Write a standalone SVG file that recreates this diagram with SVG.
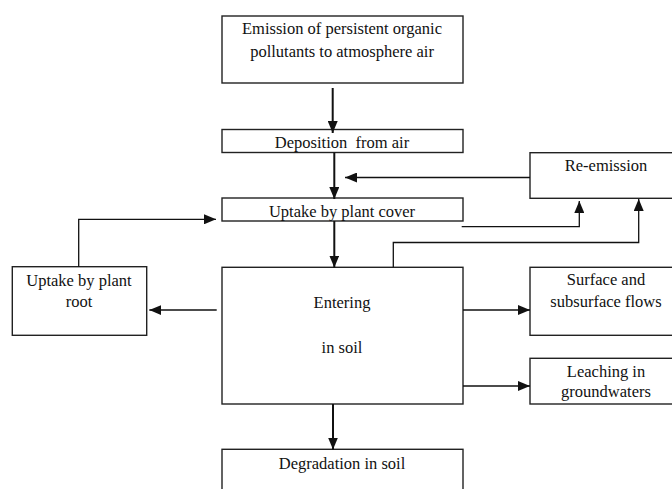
<svg xmlns="http://www.w3.org/2000/svg" width="672" height="489" viewBox="0 0 672 489">
<style>
.box{fill:#fff;stroke:#222;stroke-width:1.4}
.t{font-family:"Liberation Serif","Times New Roman",serif;font-size:16.5px;fill:#111;text-anchor:middle}
.c{fill:none;stroke:#111;stroke-width:1.3}
.m{fill:none;stroke:#111;stroke-width:2}
</style>
<defs>
<marker id="ah" viewBox="0 0 12 10" refX="12" refY="5" markerWidth="12" markerHeight="10" markerUnits="userSpaceOnUse" orient="auto">
<path d="M0,0 L12,5 L0,10 z" fill="#111"/>
</marker>
</defs>
<rect width="672" height="489" fill="#fff"/>
<g id="emission"><rect class="box" x="222" y="16" width="241" height="67"/>
<text class="t" x="342" y="34">Emission of persistent organic</text>
<text class="t" x="342" y="57">pollutants to atmosphere air</text></g>
<g id="deposition"><rect class="box" x="222" y="129.5" width="241" height="23"/>
<text class="t" x="342" y="148" xml:space="preserve">Deposition  from air</text></g>
<g id="uptake-cover"><rect class="box" x="222" y="198" width="241" height="23"/>
<text class="t" x="342" y="216.5">Uptake by plant cover</text></g>
<g id="reemission"><rect class="box" x="530" y="152.7" width="150" height="45.6"/>
<text class="t" x="606" y="170.5">Re-emission</text></g>
<g id="uptake-root"><rect class="box" x="12.3" y="266.7" width="134.4" height="68.6"/>
<text class="t" x="79" y="286">Uptake by plant</text>
<text class="t" x="79" y="307">root</text></g>
<g id="entering"><rect class="box" x="222" y="267.3" width="241" height="136.7"/>
<text class="t" x="342" y="308">Entering</text>
<text class="t" x="342" y="353">in soil</text></g>
<g id="surface"><rect class="box" x="530" y="267.3" width="150" height="68"/>
<text class="t" x="606" y="285">Surface and</text>
<text class="t" x="606" y="307">subsurface flows</text></g>
<g id="leaching"><rect class="box" x="530" y="358.3" width="150" height="45.7"/>
<text class="t" x="606" y="377">Leaching in</text>
<text class="t" x="606" y="397">groundwaters</text></g>
<g id="degradation"><rect class="box" x="222" y="449.3" width="241" height="50"/>
<text class="t" x="342" y="468.5">Degradation in soil</text></g>
<g id="connectors">
<line class="m" x1="332.7" y1="88" x2="332.7" y2="133" marker-end="url(#ah)"/>
<line class="m" x1="334.3" y1="152.5" x2="334.3" y2="199" marker-end="url(#ah)"/>
<line class="c" x1="530" y1="177.5" x2="345" y2="177.5" marker-end="url(#ah)"/>
<polyline class="c" points="461.7,226.7 579.3,226.7 579.3,201" marker-end="url(#ah)"/>
<polyline class="c" points="393.3,267.3 393.3,242.5 638.7,242.5 638.7,199" marker-end="url(#ah)"/>
<line class="m" x1="334.3" y1="221" x2="334.3" y2="267.5" marker-end="url(#ah)"/>
<polyline class="c" points="78.7,266.7 78.7,219.3 216,219.3" marker-end="url(#ah)"/>
<line class="c" x1="216.7" y1="310" x2="149.3" y2="310" marker-end="url(#ah)"/>
<line class="c" x1="463" y1="310" x2="530" y2="310" marker-end="url(#ah)"/>
<line class="c" x1="463" y1="386" x2="530" y2="386" marker-end="url(#ah)"/>
<line class="m" x1="333" y1="404" x2="333" y2="449.5" marker-end="url(#ah)"/>
</g>
</svg>
